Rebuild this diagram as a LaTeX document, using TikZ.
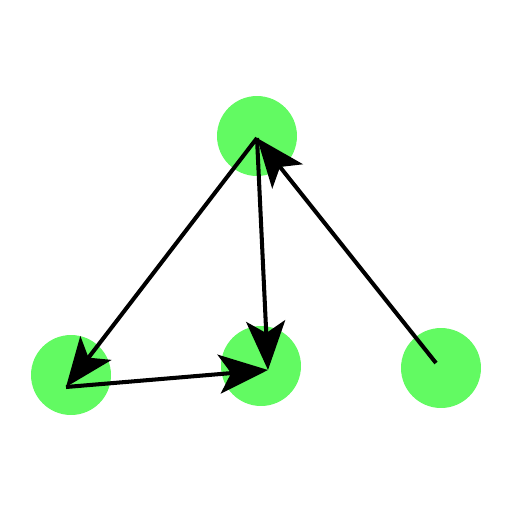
\documentclass[tikz,border=0pt]{standalone}
\usepackage{tikz}
\usetikzlibrary{arrows.meta,calc}
\definecolor{nodegreen}{RGB}{98,250,98}

\begin{document}
\begin{tikzpicture}[x=0.02cm, y=-0.02cm,
						vertex/.style={
							circle,
							fill=nodegreen,
							draw=none,
							minimum size=1.6cm,
							inner sep=0pt
						},
						edge/.style={
							-{Stealth[length=0.98cm, width=0.78cm, inset=0.24cm]},
							line width=2.3pt,
							black
						}]

						% Fix the page to the size of the reference
						\useasboundingbox (0,0) rectangle (512,512);

						% Draw the four vertices
						\node [vertex] (top) at (257,136) {};
						\node [vertex] (left) at (71,375) {};
						\node [vertex] (middle) at (261,366) {};
						\node [vertex] (right) at (441,368) {};

						% End points of the edges sit a little off the centres
						\coordinate (topEnd) at (257,138);
						\coordinate (leftEnd) at (66,387);
						\coordinate (middleEnd) at (268,370);
						\coordinate (rightEnd) at (436,363);

						%% Add the edges
						\draw [edge] (topEnd) -- (leftEnd);
						\draw [edge] (leftEnd) -- (middleEnd);
						\draw [edge] (topEnd) -- (middleEnd);
						\draw [edge] (rightEnd) -- (topEnd);
					\end{tikzpicture}
\end{document}
